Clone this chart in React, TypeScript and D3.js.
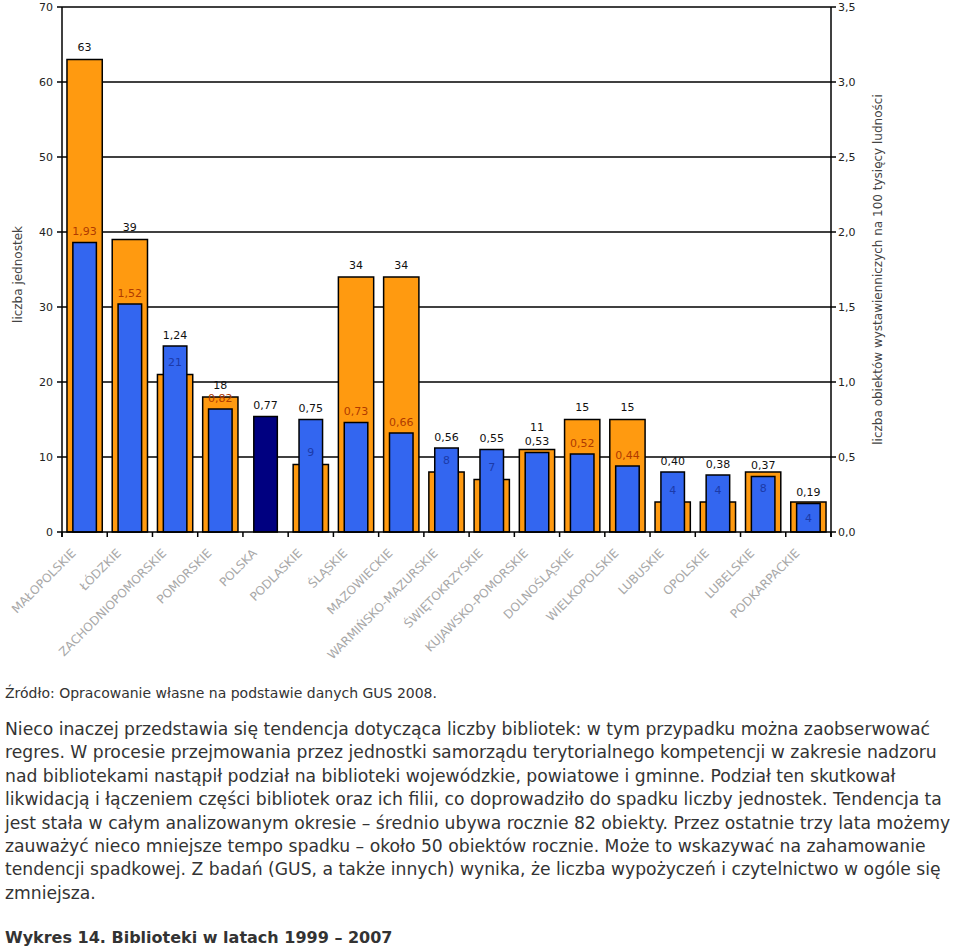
import React from "react";
import * as d3 from "d3";

const categories = [
  "MAŁOPOLSKIE", "ŁÓDZKIE", "ZACHODNIOPOMORSKIE", "POMORSKIE", "POLSKA", "PODLASKIE",
  "ŚLĄSKIE", "MAZOWIECKIE", "WARMIŃSKO-MAZURSKIE", "ŚWIĘTOKRZYSKIE", "KUJAWSKO-POMORSKIE",
  "DOLNOŚLĄSKIE", "WIELKOPOLSKIE", "LUBUSKIE", "OPOLSKIE", "LUBELSKIE", "PODKARPACKIE",
];
const unitCounts: (number | null)[] = [63, 39, 21, 18, null, 9, 34, 34, 8, 7, 11, 15, 15, 4, 4, 8, 4];
const ratePer100k = [1.93, 1.52, 1.24, 0.82, 0.77, 0.75, 0.73, 0.66, 0.56, 0.55, 0.53, 0.52, 0.44, 0.40, 0.38, 0.37, 0.19];
const highlightCategory = "POLSKA";
const leftTicks = [0, 10, 20, 30, 40, 50, 60, 70];
const rightTicks = [0, 0.5, 1, 1.5, 2, 2.5, 3, 3.5];
const leftTitle = "liczba jednostek";
const rightTitle = "liczba obiektów wystawienniczych na 100 tysięcy ludności";
const sourceLine = "Źródło: Opracowanie własne na podstawie danych GUS 2008.";
const paragraphLines = [
  "Nieco inaczej przedstawia się tendencja dotycząca liczby bibliotek: w tym przypadku można zaobserwować",
  "regres. W procesie przejmowania przez jednostki samorządu terytorialnego kompetencji w zakresie nadzoru",
  "nad bibliotekami nastąpił podział na biblioteki wojewódzkie, powiatowe i gminne. Podział ten skutkował",
  "likwidacją i łączeniem części bibliotek oraz ich filii, co doprowadziło do spadku liczby jednostek. Tendencja ta",
  "jest stała w całym analizowanym okresie – średnio ubywa rocznie 82 obiekty. Przez ostatnie trzy lata możemy",
  "zauważyć nieco mniejsze tempo spadku – około 50 obiektów rocznie. Może to wskazywać na zahamowanie",
  "tendencji spadkowej. Z badań (GUS, a także innych) wynika, że liczba wypożyczeń i czytelnictwo w ogóle się",
  "zmniejsza.",
];
const captionLine = "Wykres 14. Biblioteki w latach 1999 – 2007";

const W = 960;
const H = 948;
const PL = 62, PR = 831, PT = 7, PB = 532;
const FONT = "'DejaVu Sans', Verdana, sans-serif";
const ORANGE = "#FF9A10";
const BLUE = "#3366F0";
const NAVY = "#000080";

export default function App() {
  const x = d3.scaleBand<string>().domain(categories).range([PL, PR]).paddingInner(0).paddingOuter(0);
  const yL = d3.scaleLinear().domain([0, 70]).range([PB, PT]);
  const yR = d3.scaleLinear().domain([0, 3.5]).range([PB, PT]);
  const bw = x.bandwidth();
  const oW = bw * 0.78;
  const bW = bw * 0.52;
  const fmt2 = (v: number) => d3.format(".2f")(v).replace(".", ",");
  const fmt1 = (v: number) => d3.format(".1f")(v).replace(".", ",");

  const bars = categories.map((c, i) => {
    const cx = (x(c) as number) + bw / 2;
    const cnt = unitCounts[i];
    const rate = ratePer100k[i];
    const oTop = cnt == null ? PB : yL(cnt);
    const bTop = yR(rate);
    const bLabelY = bTop - 11;
    let oLabelY = oTop - 12;
    if (cnt != null && Math.abs(oLabelY - bLabelY) < 10) {
      oLabelY = cnt >= 10 ? oLabelY - 10 : oTop + 16;
    }
    return { c, i, cx, cnt, rate, oTop, bTop, bLabelY, oLabelY };
  });

  const boundaries = categories.map((c) => x(c) as number).concat([PR]);

  return (
    <div style={{ position: "absolute", left: 0, top: 0, width: W, height: H, background: "#fff" }}>
      <svg width={W} height={H} style={{ display: "block" }} fontFamily={FONT}>
        <rect x={0} y={0} width={W} height={H} fill="#fff" />
        {leftTicks.filter((t) => t > 0).map((t) => (
          <line key={"g" + t} x1={PL} x2={PR} y1={yL(t)} y2={yL(t)} stroke="#000" strokeWidth={1.5} />
        ))}
        {bars.map((b) => (
          <g key={b.c}>
            {b.cnt != null && (
              <rect x={b.cx - oW / 2} y={b.oTop} width={oW} height={PB - b.oTop} fill={ORANGE} stroke="#000" strokeWidth={1.5} />
            )}
            <rect x={b.cx - bW / 2} y={b.bTop} width={bW} height={PB - b.bTop}
              fill={b.c === highlightCategory ? NAVY : BLUE} stroke="#000" strokeWidth={1.5} />
          </g>
        ))}
        <line x1={PL} x2={PL} y1={PT} y2={PB + 5} stroke="#000" strokeWidth={1.5} />
        <line x1={PR} x2={PR} y1={PT} y2={PB + 5} stroke="#000" strokeWidth={1.5} />
        <line x1={PL} x2={PR} y1={PB} y2={PB} stroke="#000" strokeWidth={1.5} />
        {boundaries.map((bx, i) => (
          <line key={"bt" + i} x1={bx} x2={bx} y1={PB} y2={PB + 5} stroke="#000" strokeWidth={1.5} />
        ))}
        {leftTicks.map((t) => (
          <g key={"lt" + t}>
            <line x1={PL - 5} x2={PL} y1={yL(t)} y2={yL(t)} stroke="#000" strokeWidth={1.5} />
            <text x={PL - 9} y={yL(t)} dy="0.35em" textAnchor="end" fontSize={11} fill="#222">{t}</text>
          </g>
        ))}
        {rightTicks.map((t) => (
          <g key={"rt" + t}>
            <line x1={PR} x2={PR + 5} y1={yR(t)} y2={yR(t)} stroke="#000" strokeWidth={1.5} />
            <text x={PR + 7} y={yR(t)} dy="0.35em" textAnchor="start" fontSize={11} fill="#222">{fmt1(t)}</text>
          </g>
        ))}
        <text transform={`translate(22, ${(PT + PB) / 2 + 5}) rotate(-90)`} textAnchor="middle" fontSize={12} fill="#444">{leftTitle}</text>
        <text transform={`translate(878, ${(PT + PB) / 2}) rotate(-90)`} textAnchor="middle" dy="0.35em" fontSize={12} fill="#444">{rightTitle}</text>
        {bars.map((b) => (
          <g key={"lab" + b.c} fontSize={11}>
            {b.cnt != null && (
              <text x={b.cx} y={b.oLabelY} dy="0.35em" textAnchor="middle"
                fill={b.oLabelY > b.bTop ? "#1c3aa8" : "#111"}>{b.cnt}</text>
            )}
            <text x={b.cx} y={b.bLabelY} dy="0.35em" textAnchor="middle"
              fill={b.bLabelY > b.oTop ? "#b03a00" : "#111"}>{fmt2(b.rate)}</text>
          </g>
        ))}
        {bars.map((b) => (
          <text key={"xl" + b.c} transform={`translate(${b.cx - 8}, 554) rotate(-45)`} textAnchor="end"
            fontSize={12} fill="#a8a8a8">{b.c}</text>
        ))}
        <text x={5} y={698} fontSize={14} fill="#333">{sourceLine}</text>
        {paragraphLines.map((l, i) => (
          <text key={"p" + i} x={5} y={735 + i * 23.4} fontSize={17.2} fill="#333">{l}</text>
        ))}
        <text x={5} y={943} fontSize={16} fontWeight="bold" fill="#333">{captionLine}</text>
      </svg>
    </div>
  );
}
